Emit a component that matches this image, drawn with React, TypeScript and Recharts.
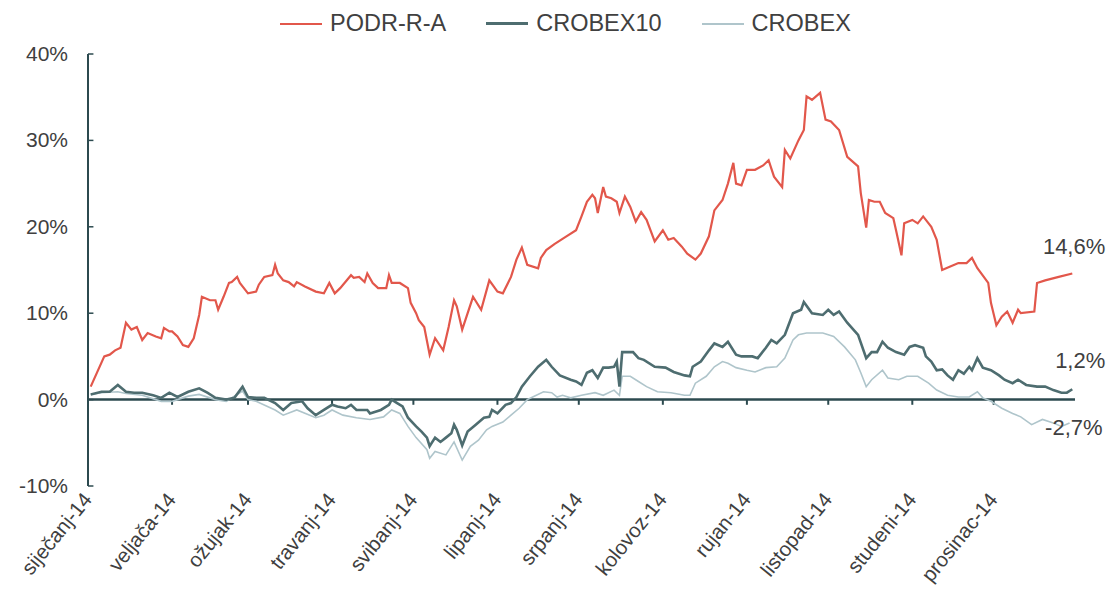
import React from 'react';
import { LineChart, Line, XAxis, YAxis, ReferenceLine } from 'recharts';

// x = day of year 2014 (0 = 1 Jan), values in %
const monthStarts = [0, 31, 59, 90, 120, 151, 181, 212, 243, 273, 304, 334];
const monthLabels = [
  'siječanj-14', 'veljača-14', 'ožujak-14', 'travanj-14', 'svibanj-14', 'lipanj-14',
  'srpanj-14', 'kolovoz-14', 'rujan-14', 'listopad-14', 'studeni-14', 'prosinac-14',
];
const yTicks = [-10, 0, 10, 20, 30, 40];

const podrDays = [
  1, 6, 8, 10, 12, 14, 16, 18, 20, 22, 25, 27, 28, 30, 31, 33, 35, 37, 39, 41, 42, 45, 47, 48, 50,
  52, 53, 55, 56, 59, 62, 63, 65, 68, 69, 70, 72, 74, 76, 77, 80, 84, 87, 89, 91, 93, 97, 98, 100,
  102, 103, 105, 107, 110, 111, 112, 115, 118, 119, 121, 122, 124, 126, 128, 131, 133, 135, 136,
  138, 142, 145, 148, 151, 153, 156, 158, 160, 162, 166, 167, 169, 172, 176, 180, 182, 184, 186,
  187, 188, 190, 191, 193, 195, 196, 198, 200, 202, 204, 206, 209, 212, 214, 216, 219, 221, 224,
  226, 229, 231, 234, 236, 238, 239, 241, 243, 246, 249, 251, 253, 256, 257, 259, 262, 264, 265,
  267, 270, 272, 274, 277, 280, 284, 285, 287, 288, 290, 292, 294, 297, 298, 300, 301, 304, 306,
  308, 311, 313, 315, 318, 321, 324, 326, 328, 332, 333, 335, 337, 339, 341, 343, 344, 349, 350,
  353, 358, 363,
];
const podrVals = [
  1.5, 5.0, 5.2, 5.7, 6.0, 8.9, 8.1, 8.4, 6.9, 7.7, 7.3, 7.1, 8.3, 7.9, 7.9, 7.3, 6.3, 6.1, 7.1, 9.8,
  11.9, 11.5, 11.5, 10.4, 11.9, 13.5, 13.6, 14.2, 13.5, 12.3, 12.5, 13.3, 14.2, 14.4, 15.6, 14.6,
  13.8, 13.6, 13.1, 13.6, 13.1, 12.5, 12.3, 13.5, 12.3, 12.9, 14.4, 14.1, 14.2, 13.6, 14.6, 13.5,
  12.9, 12.9, 14.4, 13.5, 13.5, 12.9, 11.2, 10.0, 9.2, 8.4, 5.2, 7.1, 5.7, 8.4, 11.5, 10.8, 8.1,
  11.9, 10.4, 13.8, 12.5, 12.3, 14.2, 16.2, 17.6, 15.6, 15.2, 16.4, 17.3, 18.0, 18.8, 19.6, 21.2,
  22.9, 23.7, 23.3, 21.6, 24.6, 23.5, 23.3, 22.9, 21.6, 23.5, 22.3, 20.6, 21.7, 20.8, 18.3, 19.6,
  18.5, 18.7, 17.7, 16.9, 16.2, 16.9, 18.9, 21.9, 23.1, 25.0, 27.4, 25.0, 24.8, 26.6, 26.6, 27.1,
  27.7, 25.8, 24.6, 28.9, 27.9, 30.0, 31.2, 35.1, 34.7, 35.5, 32.4, 32.2, 31.2, 28.1, 27.0, 23.9,
  19.9, 23.1, 22.9, 22.9, 21.6, 21.0, 19.6, 16.7, 20.4, 20.8, 20.4, 21.2, 20.0, 18.5, 15.0, 15.4,
  15.8, 15.8, 16.4, 15.2, 13.5, 11.2, 8.6, 9.6, 10.2, 8.9, 10.4, 10.0, 10.2, 13.5, 13.8, 14.2, 14.6,
];

const crobex10Days = [
  1, 5, 8, 11, 14, 17, 20, 24, 27, 30, 33, 37, 41, 44, 47, 51, 54, 57, 59, 62, 65, 69, 72, 75, 79,
  81, 84, 87, 90, 92, 95, 97, 99, 103, 104, 108, 111, 112, 114, 116, 118, 121, 123, 125, 126, 128,
  130, 132, 134, 135, 136, 138, 140, 143, 146, 148, 149, 151, 154, 156, 158, 160, 163, 166, 169,
  171, 174, 178, 180, 182, 184, 186, 188, 190, 192, 194, 195, 196, 197, 201, 203, 205, 209, 213,
  216, 220, 222, 223, 226, 229, 231, 234, 236, 239, 241, 245, 247, 250, 252, 254, 257, 260, 263,
  264, 267, 271, 273, 275, 277, 280, 284, 287, 289, 291, 293, 295, 298, 301, 303, 305, 308, 309,
  311, 313, 315, 317, 319, 321, 323, 325, 326, 328, 330, 333, 336, 338, 341, 343, 346, 350, 353,
  356, 359, 361, 363,
];
const crobex10Vals = [
  0.6, 0.9, 0.9, 1.7, 0.9, 0.8, 0.8, 0.5, 0.2, 0.8, 0.3, 0.9, 1.3, 0.8, 0.2, 0.0, 0.2, 1.5, 0.3, 0.2,
  0.2, -0.4, -1.2, -0.4, -0.2, -1.0, -1.8, -1.2, -0.6, -0.8, -1.0, -0.6, -1.2, -1.2, -1.6, -1.2,
  -0.6, 0.0, -0.4, -0.8, -2.1, -3.1, -3.7, -4.4, -5.4, -4.4, -4.9, -4.4, -3.9, -2.9, -3.5, -5.3,
  -3.7, -2.9, -2.1, -2.0, -1.2, -1.6, -0.6, -0.4, 0.3, 1.5, 2.7, 3.8, 4.6, 3.8, 2.8, 2.3, 2.1, 1.7,
  3.1, 3.4, 2.5, 3.7, 3.7, 3.8, 4.4, 1.5, 5.5, 5.5, 4.8, 4.6, 3.8, 3.7, 3.2, 2.8, 2.7, 3.8, 4.4,
  5.7, 6.5, 6.1, 6.7, 5.2, 5.0, 5.0, 4.8, 6.0, 6.9, 6.5, 7.5, 10.0, 10.4, 11.3, 10.0, 9.8, 10.4,
  9.8, 10.2, 8.9, 7.5, 4.8, 5.5, 5.5, 6.7, 6.0, 5.5, 5.2, 6.1, 6.3, 6.0, 5.0, 4.4, 3.4, 3.5, 2.8,
  2.3, 3.4, 3.0, 3.8, 3.4, 4.8, 3.7, 3.4, 2.8, 2.3, 1.9, 2.3, 1.7, 1.5, 1.5, 1.1, 0.8, 0.8, 1.2,
];

const crobexDays = [
  1, 5, 11, 14, 20, 27, 31, 37, 41, 47, 51, 57, 59, 62, 69, 72, 77, 84, 87, 90, 94, 99, 104, 109,
  112, 115, 118, 121, 125, 126, 128, 132, 135, 138, 141, 144, 147, 149, 153, 156, 159, 162, 164,
  168, 171, 173, 175, 178, 182, 187, 190, 194, 196, 197, 200, 203, 206, 210, 215, 220, 222, 224,
  228, 231, 234, 236, 239, 243, 246, 250, 254, 257, 260, 262, 265, 271, 275, 279, 283, 285, 287,
  289, 293, 295, 299, 302, 306, 310, 313, 317, 321, 325, 328, 330, 333, 337, 341, 344, 348, 352,
  356, 359, 362,
];
const crobexVals = [
  0.6, 0.8, 0.9, 0.7, 0.5, -0.2, -0.2, 0.4, 0.6, 0.0, -0.2, 1.0, 0.0, -0.2, -1.2, -1.8, -1.2, -2.1,
  -1.8, -1.2, -1.8, -2.1, -2.3, -2.0, -1.2, -1.6, -3.1, -4.4, -5.8, -6.8, -6.0, -6.4, -4.9, -7.0,
  -5.4, -4.7, -3.5, -3.1, -2.6, -1.8, -1.0, 0.0, 0.3, 0.9, 0.8, 0.3, 0.5, 0.2, 0.5, 0.8, 0.5, 1.1,
  0.5, 2.7, 2.7, 2.1, 1.5, 0.9, 0.8, 0.5, 0.5, 1.9, 2.7, 3.8, 4.4, 4.2, 3.7, 3.4, 3.2, 3.7, 3.8,
  4.8, 6.9, 7.5, 7.7, 7.7, 7.3, 6.1, 4.6, 3.1, 1.5, 2.3, 3.4, 2.5, 2.3, 2.7, 2.7, 1.9, 1.1, 0.5,
  0.3, 0.3, 0.9, 0.2, -0.2, -1.0, -1.6, -2.0, -2.9, -2.3, -2.7, -3.1, -2.7,
];

const toRows = (days: number[], vals: number[]) => days.map((d, i) => ({ d, v: vals[i] }));
const podr = toRows(podrDays, podrVals);
const crobex10 = toRows(crobex10Days, crobex10Vals);
const crobex = toRows(crobexDays, crobexVals);

const RED = '#e2574b';
const DARK = '#4e6d70';
const LIGHT = '#afc5cb';
const AXIS = '#2c4a4f';
const TEXT = '#404040';
const FONT = '"Liberation Sans", Arial, sans-serif';

const MonthTick = (props: any) => {
  const { x, y, payload } = props;
  const label = monthLabels[monthStarts.indexOf(payload.value)];
  const ax = x + 5;
  const ay = y + 4;
  return (
    <text x={ax} y={ay} transform={`rotate(-51 ${ax} ${ay})`} textAnchor="end"
      fontSize={20.5} fontFamily={FONT} fill={TEXT}>{label}</text>
  );
};

const PctTick = (props: any) => {
  const { x, y, payload } = props;
  return (
    <text x={x} y={y} dy={7} textAnchor="end" fontSize={21} fontFamily={FONT} fill={TEXT}>
      {payload.value}%
    </text>
  );
};

const endLabel = (count: number, text: string, dy: number) => (props: any) => {
  if (props.index !== count - 1) return <g />;
  return (
    <text x={props.x + 33} y={props.y + dy} textAnchor="end" fontSize={22} fontFamily={FONT} fill={TEXT}>
      {text}
    </text>
  );
};

const LegendItem = ({ color, width, label }: { color: string; width: number; label: string }) => (
  <div style={{ display: 'flex', alignItems: 'center', gap: 8 }}>
    <div style={{ width: 42, height: width, background: color }} />
    <span>{label}</span>
  </div>
);

export default function App() {
  return (
    <div style={{ position: 'absolute', left: 0, top: 0, width: 1108, height: 593, background: '#fff' }}>
      <div style={{
        position: 'absolute', left: 280, top: 10, display: 'flex', gap: 40,
        fontFamily: FONT, fontSize: 23.5, color: TEXT,
      }}>
        <LegendItem color={RED} width={2} label="PODR-R-A" />
        <LegendItem color={DARK} width={3} label="CROBEX10" />
        <LegendItem color={LIGHT} width={2} label="CROBEX" />
      </div>
      <LineChart width={1108} height={593} margin={{ top: 54, right: 33, bottom: 0, left: 0 }}>
        <XAxis dataKey="d" type="number" domain={[0, 364]} ticks={monthStarts} interval={0}
          axisLine={false} tickLine={false} tickSize={0} tickMargin={10} height={107} tick={<MonthTick />} />
        <YAxis type="number" domain={[-10, 40]} ticks={yTicks} interval={0} width={88}
          axisLine={{ stroke: AXIS, strokeWidth: 2 }} tickLine={false} tickSize={0} tickMargin={20}
          tick={<PctTick />} />
        {yTicks.map((t) => (
          <ReferenceLine key={`yt${t}`} segment={[{ x: 0, y: t }, { x: 2, y: t }]} stroke={AXIS} strokeWidth={1.5} />
        ))}
        <ReferenceLine y={0} stroke={AXIS} strokeWidth={2.5} />
        {monthStarts.map((m) => (
          <ReferenceLine key={`xt${m}`} segment={[{ x: m, y: 0 }, { x: m, y: -0.6 }]} stroke={AXIS} strokeWidth={2} />
        ))}
        <Line data={crobex} dataKey="v" stroke={LIGHT} strokeWidth={1.6} dot={false}
          isAnimationActive={false} label={endLabel(crobex.length, '-2,7%', 12)} />
        <Line data={crobex10} dataKey="v" stroke={DARK} strokeWidth={2.6} dot={false}
          isAnimationActive={false} label={endLabel(crobex10.length, '1,2%', -21)} />
        <Line data={podr} dataKey="v" stroke={RED} strokeWidth={2.2} dot={false}
          isAnimationActive={false} label={endLabel(podr.length, '14,6%', -19)} />
      </LineChart>
    </div>
  );
}
